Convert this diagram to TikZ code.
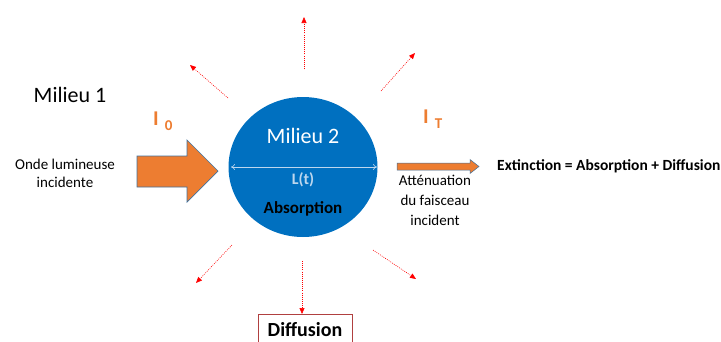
\documentclass[tikz,border=0pt]{standalone}
\usepackage{fontspec}
\setmainfont{Carlito}
\usetikzlibrary{arrows.meta,shapes.geometric}
\definecolor{cblue}{HTML}{0070C0}
\definecolor{corange}{HTML}{ED7D31}
\definecolor{coutline}{HTML}{41719C}
\definecolor{clight}{HTML}{BDD7EE}
\definecolor{cbox}{HTML}{B04040}
\tikzset{
  txt/.style={inner sep=0pt, font=\fontsize{15}{18}\selectfont, align=center},
  big/.style={inner sep=0pt, font=\fontsize{22}{26}\selectfont},
  scat/.style={red, line width=0.6pt, dash pattern=on 0.9pt off 1.2pt, -{Triangle[length=6pt,width=5pt]}},
  arrowbody/.style={fill=corange, draw=coutline, line width=0.7pt, line join=miter},
}
\begin{document}
\begin{tikzpicture}[x=1pt,y=-1pt]
\useasboundingbox (0,0) rectangle (721,341);
% Medium 2
\node[ellipse, fill=cblue, minimum width=149pt, minimum height=140pt, inner sep=0pt] (m2) at (303,167) {};
\node[big, text=white] (m2t) at (303,136) {Milieu 2};
\coordinate (dl) at (231,167);
\coordinate (dr) at (377,167);
\draw[clight, line width=0.6pt, {To[length=4pt,width=6pt]}-{To[length=4pt,width=6pt]}] (dl) -- (dr);
\node[inner sep=0pt, text=clight, font=\fontsize{16}{18}\selectfont\bfseries] (lt) at (303,180) {L(t)};
\node[inner sep=0pt, font=\fontsize{17}{20}\selectfont\bfseries] (abs) at (303,209) {Absorption};
% Medium 1
\node[big] (m1) at (70,95) {Milieu 1};
\node[txt] (onde) at (65,173) {Onde lumineuse\\incidente};
\node[inner sep=0pt, text=corange, font=\fontsize{21}{24}\selectfont\bfseries, anchor=west] (i0) at (153,121) {I\hspace{6pt}\raisebox{-5pt}{\fontsize{15}{18}\selectfont 0}};
% big incident arrow
\draw[arrowbody] (137,156) -- (187,156) -- (187,140) -- (218,171) -- (187,202) -- (187,187) -- (137,187) -- cycle;
% transmitted
\node[inner sep=0pt, text=corange, font=\fontsize{21}{24}\selectfont\bfseries, anchor=west] (it) at (423,119) {I\hspace{6pt}\raisebox{-5pt}{\fontsize{15}{18}\selectfont T}};
\draw[arrowbody, line width=0.5pt] (397,163) -- (470,163) -- (470,159.5) -- (479,166.5) -- (470,173.5) -- (470,170) -- (397,170) -- cycle;
\node[txt, font=\fontsize{15}{20}\selectfont] (att) at (435,200) {Atténuation\\du faisceau\\incident};
\node[inner sep=0pt, anchor=west, font=\fontsize{15.5}{18}\selectfont\bfseries] (ext) at (497,166) {Extinction = Absorption + Diffusion};
% scattering
\node[draw=cbox, line width=0.8pt, minimum width=94pt, minimum height=30pt, anchor=north, inner sep=0pt] (diff) at (305,314) {};
\node[inner sep=0pt, font=\fontsize{20}{24}\selectfont\bfseries] (difftxt) at (305,330) {Diffusion};
\coordinate (s1a) at (304,69); \coordinate (s1b) at (304,17);
\coordinate (s2a) at (228,98); \coordinate (s2b) at (190,65);
\coordinate (s3a) at (381,91); \coordinate (s3b) at (415,53);
\coordinate (s4a) at (232,245); \coordinate (s4b) at (196,283);
\coordinate (s5a) at (302,261);
\coordinate (s6a) at (373,250); \coordinate (s6b) at (416,279);
\draw[scat] (s1a) -- (s1b);
\draw[scat] (s2a) -- (s2b);
\draw[scat] (s3a) -- (s3b);
\draw[scat] (s4a) -- (s4b);
\draw[scat] (s5a) -- (s5a |- diff.north);
\draw[scat] (s6a) -- (s6b);
\end{tikzpicture}
\end{document}
